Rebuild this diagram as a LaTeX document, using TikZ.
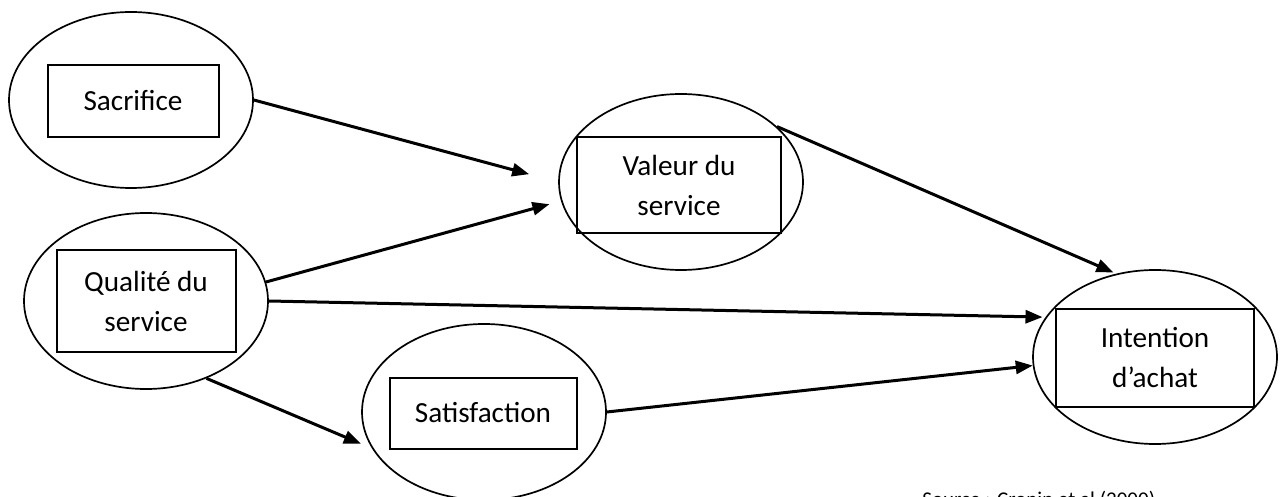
\documentclass[tikz,border=0pt]{standalone}
\usepackage{fontspec}
\setmainfont{Carlito}
\usetikzlibrary{shapes.geometric,arrows.meta}
\begin{document}
\begin{tikzpicture}[x=0.5pt,y=-0.5pt,
  oval/.style={draw,ellipse,line width=0.85pt,inner sep=0pt,minimum width=244\pgflinewidth*0+122pt,minimum height=88pt},
  box/.style={draw,rectangle,line width=1pt,inner sep=0pt,align=center,font=\fontsize{14.6}{20}\selectfont},
  arr/.style={line width=1.5pt,-{Triangle[length=8.5pt,width=6.5pt]}}]
\useasboundingbox (0,0) rectangle (1285,497);
% ellipses
\node[oval] (sacE) at (131,100) {};
\node[oval] (valE) at (681,182) {};
\node[oval] (qualE) at (146,301) {};
\node[oval] (satE) at (484,412) {};
\node[oval,minimum height=87pt] (intE) at (1155,357) {};
% boxes
\node[box,minimum width=85.5pt,minimum height=36pt] (sac) at (133,101) {Sacrifice};
\node[box,minimum width=102pt,minimum height=48pt] (val) at (679,185) {Valeur du\\service};
\node[box,minimum width=89.5pt,minimum height=50.5pt] (qual) at (146,301) {Qualité du\\service};
\node[box,minimum width=93.5pt,minimum height=35.5pt] (sat) at (483,413) {Satisfaction};
\node[box,minimum width=99pt,minimum height=48.5pt] (int) at (1155,358) {Intention\\d’achat};
% arrows
\draw[arr,shorten >=15pt] (sacE.east) -- (valE.west);
\draw[arr,shorten >=6pt] (qualE.9) -- (valE.189);
\draw[arr,shorten >=1.5pt] (qualE.east) -- (intE.160);
\draw[arr,shorten >=6pt] (qualE.-52) -- (satE.198);
\draw[arr] (satE.east) -- (intE.184);
\draw[arr,shorten >=1.5pt] (valE.30) -- (intE.115);
% source
\node[anchor=base west,inner sep=0pt,font=\fontsize{10.5}{12}\selectfont] (src) at (922,506.5) {Source : Cronin et al (2000)};
\end{tikzpicture}
\end{document}
